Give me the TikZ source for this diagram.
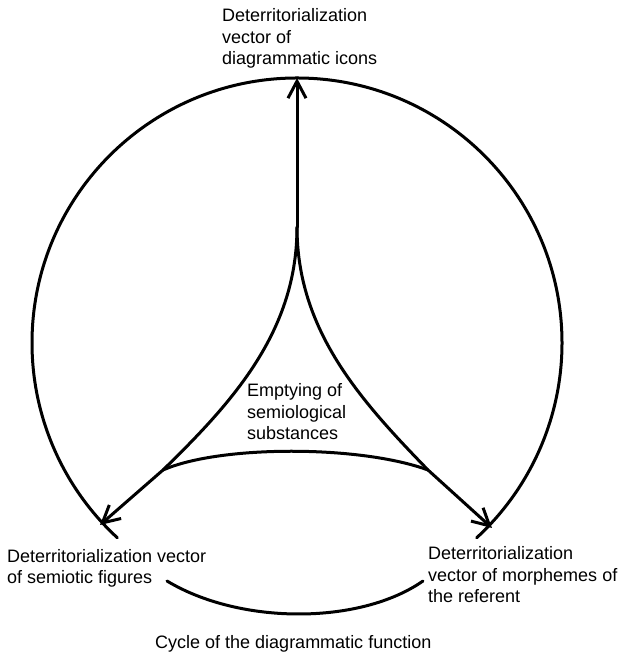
\documentclass[tikz,border=0pt]{standalone}
\usepackage{fontspec}
\setmainfont{Liberation Sans}
\usetikzlibrary{arrows.meta}
\begin{document}
\begin{tikzpicture}[x=1pt,y=1pt,
  stroke/.style={line width=3pt, line cap=round, line join=round},
  vec/.style={stroke, -{Straight Barb[length=17pt,width=18pt]}},
  lbl/.style={font=\fontsize{18}{21.5}\selectfont, align=left, inner sep=0pt, anchor=base west}]
\useasboundingbox (0,0) rectangle (630,660);

% key points of the figure
\coordinate (top)  at (297,582);
\coordinate (cusp) at (297,433);
\coordinate (lc)   at (163,190);
\coordinate (rc)   at (428,190);
\coordinate (ltip) at (100,135);
\coordinate (rtip) at (492,132);
\coordinate (cl)   at (167,79);
\coordinate (cr)   at (423,79);

% outer circle, split into two arcs meeting at the top
\draw[stroke] (top) arc[start angle=90, end angle=227.3, radius=265];
\draw[stroke] (top) arc[start angle=90, end angle=-47.3, radius=265];

% inner concave triangle and the three vectors
\draw[vec] (cusp) -- (top);
\draw[vec] (cusp) .. controls (297,330) and (235,260) .. (lc) -- (ltip);
\draw[vec] (cusp) .. controls (297,330) and (360,260) .. (rc) -- (rtip);
\draw[stroke] (lc) .. controls (220,215) and (360,215) .. (rc);

% lower arc closing the cycle
\draw[stroke] (cl) .. controls (240,35) and (360,35) .. (cr);

% labels (anchored at the baseline of their last line)
\node[lbl] (icons) at (222,595) {Deterritorialization\\vector of\\diagrammatic icons};
\node[lbl] (empty) at (247,220) {Emptying of\\semiological\\substances};
\node[lbl] (figs) at (7,76) {Deterritorialization vector\\of semiotic figures};
\node[lbl] (morph) at (428,57) {Deterritorialization\\vector of morphemes of\\the referent};
\node[lbl] (cycle) at (155,11) {Cycle of the diagrammatic function};
\end{tikzpicture}
\end{document}
